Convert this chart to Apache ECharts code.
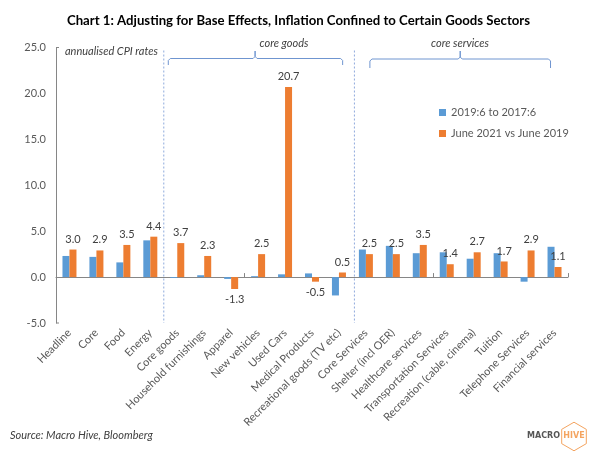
<!DOCTYPE html>
<html><head><meta charset="utf-8">
<script src="https://cdn.jsdelivr.net/npm/echarts@6/dist/echarts.min.js"></script>
<style>html,body{margin:0;padding:0;background:#fff}#c{width:597px;height:461px}</style>
</head><body><div id="c"></div>
<script>
const categories = ['Headline','Core','Food','Energy','Core goods','Household furnishings','Apparel','New vehicles','Used Cars','Medical Products','Recreational goods (TV etc)','Core Services','Shelter (incl OER)','Healthcare services','Transportation Services','Recreation (cable, cinema)','Tuition','Telephone Services','Financial services'];
const seriesNames = ['2019:6 to 2017:6', 'June 2021 vs June 2019'];
const values2017to2019 = [2.3, 2.2, 1.6, 4.0, -0.1, 0.2, -0.2, 0.1, 0.3, 0.4, -2.0, 3.0, 3.4, 2.6, 2.7, 2.0, 2.6, -0.5, 3.3];
const values2019to2021 = [3.0, 2.9, 3.5, 4.4, 3.7, 2.3, -1.3, 2.5, 20.7, -0.5, 0.5, 2.5, 2.5, 3.5, 1.4, 2.7, 1.7, 2.9, 1.1];
const yMin = -5, yMax = 25, yStep = 5;

const FONT = 'Lato';
const GREY = '#595959';
const AXIS = '#868686';
const chart = echarts.init(document.getElementById('c'));
chart.setOption({
  animation: false,
  backgroundColor: '#fff',
  textStyle: { fontFamily: FONT },
  title: { text: 'Chart 1: Adjusting for Base Effects, Inflation Confined to Certain Goods Sectors', left: 'center', top: 9,
    textStyle: { fontFamily: FONT, fontSize: 13.2, fontWeight: 'bold', color: '#000' } },
  legend: { orient: 'vertical', left: 434, top: 102, itemWidth: 7, itemHeight: 7, itemGap: 10, icon: 'rect',
    textStyle: { fontFamily: FONT, fontSize: 11, color: GREY }, data: seriesNames },
  grid: { left: 56, right: 29, top: 47.5, bottom: 138, containLabel: false },
  xAxis: [
    { type: 'category', data: categories, position: 'bottom',
      axisLine: { show: false, onZero: false }, axisTick: { show: false },
      axisLabel: { interval: 0, rotate: 45, margin: 8, fontSize: 11, color: GREY, fontFamily: FONT } },
    { type: 'category', data: categories, position: 'bottom',
      axisLine: { show: true, onZero: true, lineStyle: { color: AXIS } },
      axisTick: { show: true, inside: true, length: 4, lineStyle: { color: AXIS } },
      axisLabel: { show: false } }
  ],
  yAxis: { type: 'value', min: yMin, max: yMax, interval: yStep,
    splitLine: { show: false }, axisTick: { show: false },
    axisLine: { show: true, lineStyle: { color: AXIS } },
    axisLabel: { margin: 10, fontSize: 11, color: GREY, fontFamily: FONT, formatter: v => v.toFixed(1) } },
  series: [
    { name: seriesNames[0], type: 'bar', xAxisIndex: 0, barWidth: 7, barGap: '0%',
      itemStyle: { color: '#5B9BD5' }, data: values2017to2019 },
    { name: seriesNames[1], type: 'bar', xAxisIndex: 0, barWidth: 7, barGap: '0%',
      itemStyle: { color: '#ED7D31' },
      data: values2019to2021.map(v => ({ value: v, label: { position: v >= 0 ? 'top' : 'bottom' } })),
      label: { show: true, fontSize: 11, color: '#404040', fontFamily: FONT, formatter: p => p.value.toFixed(1) } }
  ]
});

// annotations
const cx = i => chart.convertToPixel({ xAxisIndex: 0 }, i);
const cy = v => chart.convertToPixel({ yAxisIndex: 0 }, v);
const w = cx(1) - cx(0);
const bnd = i => cx(i) - w / 2;
const yTop = cy(yMax), yBot = cy(yMin), x0 = bnd(0);
const BR = '#6F95D0';
function bracket(x1, x2, xc, yH, yEnd, yTip) {
  return { type: 'polyline', silent: true,
    shape: { points: [[x1, yEnd], [x1, yH + 2], [x1 + 2, yH], [xc - 2, yH], [xc, yH - 2], [xc, yTip], [xc, yH - 2], [xc + 2, yH], [x2 - 2, yH], [x2, yH + 2], [x2, yEnd]] },
    style: { stroke: BR, lineWidth: 1, fill: null } };
}
const italic = (text, x, y, align) => ({ type: 'text', silent: true, x, y,
  style: { text, fill: '#404040', font: 'italic 11px ' + FONT, textAlign: align || 'left', textVerticalAlign: 'middle' } });
const hx = 574, hy = 436.5, hr = 14.3, hw = 12.3;
chart.setOption({ graphic: [
  { type: 'line', silent: true, shape: { x1: x0, y1: yTop, x2: x0 + 3, y2: yTop }, style: { stroke: AXIS, lineWidth: 1 } },
  { type: 'line', silent: true, shape: { x1: x0, y1: yBot, x2: x0 + 3, y2: yBot }, style: { stroke: AXIS, lineWidth: 1 } },
  { type: 'line', silent: true, shape: { x1: bnd(4), y1: yTop + 3, x2: bnd(4), y2: yBot }, style: { stroke: '#8FAADC', lineWidth: 1, lineDash: [2, 2] } },
  { type: 'line', silent: true, shape: { x1: bnd(11) + 2, y1: yTop + 3, x2: bnd(11) + 2, y2: yBot }, style: { stroke: '#8FAADC', lineWidth: 1, lineDash: [2, 2] } },
  bracket(bnd(4) + 4.5, cx(10) + 3.7, cx(7) - 3, 58.5, 65, 51),
  bracket(cx(11) + 4, cx(18) - 4, bnd(15), 59, 68, 51),
  italic('annualised CPI rates', 65, 51),
  italic('core goods', 284, 43, 'center'),
  italic('core services', 460, 43, 'center'),
  italic('Source: Macro Hive, Bloomberg', 10, 435),
  { type: 'text', silent: true, x: 560, y: 436, style: { text: 'MACRO', fill: '#555', font: 'bold 8px "DejaVu Sans"', textAlign: 'right', textVerticalAlign: 'middle' } },
  { type: 'text', silent: true, x: 574, y: 436, style: { text: 'HIVE', fill: '#F4A460', font: 'bold 8px "DejaVu Sans"', textAlign: 'center', textVerticalAlign: 'middle' } },
  { type: 'polygon', silent: true, shape: { points: [[hx, hy - hr], [hx + hw, hy - hr / 2], [hx + hw, hy + hr / 2], [hx, hy + hr], [hx - hw, hy + hr / 2], [hx - hw, hy - hr / 2]] },
    style: { fill: null, stroke: '#F4A460', lineWidth: 1 } }
] });
</script>
</body></html>
